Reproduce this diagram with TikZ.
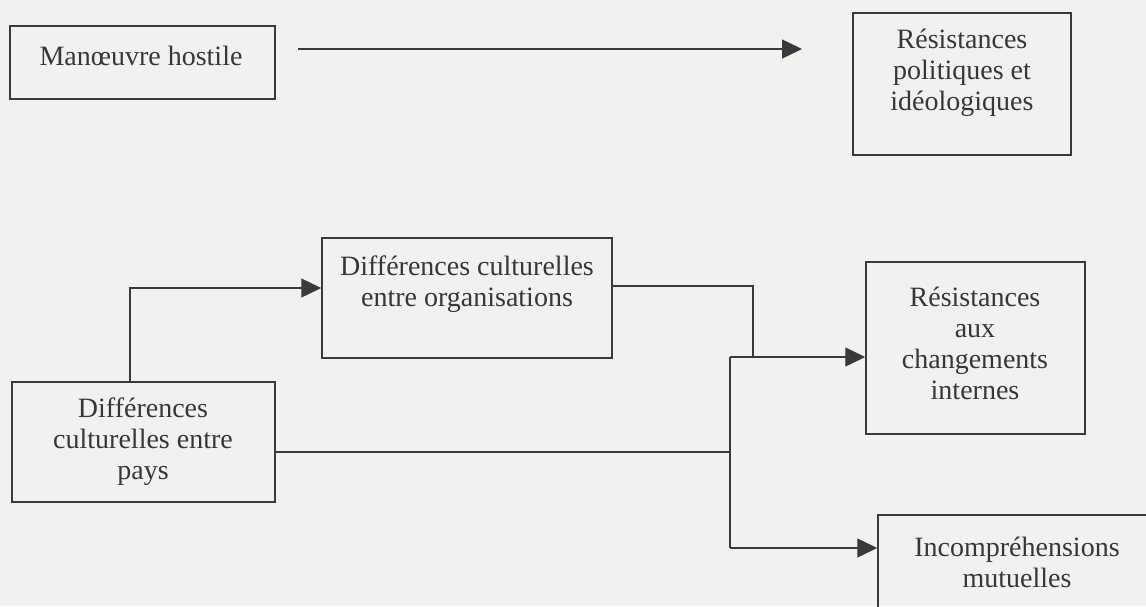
\documentclass[tikz,border=0pt]{standalone}
\usepackage{fontspec}
\setmainfont{Liberation Serif}
\usetikzlibrary{arrows.meta}
\definecolor{paper}{HTML}{F1F1EF}
\definecolor{ink}{HTML}{3A3A3A}
\begin{document}
\begin{tikzpicture}[x=1pt,y=-1pt,
  box/.style={draw=ink, line width=1.5pt, rectangle, inner sep=0pt},
  lbl/.style={text=ink!95!black, align=center, inner sep=0pt,
    font=\fontsize{28}{31}\selectfont},
  link/.style={draw=ink, line width=1.4pt},
  arr/.style={link, -{Triangle[length=20pt,width=19pt]}}]
  % page
  \fill[paper] (0,0) rectangle (1146,606);
  \useasboundingbox (0,0) rectangle (1146,606);

  % boxes
  \node[box, minimum width=265pt, minimum height=73pt] (b1) at (142.5,62.5) {};
  \node[lbl] (t1) at (141,56) {Manœuvre hostile};

  \node[box, minimum width=218pt, minimum height=142pt] (b2) at (962,84) {};
  \node[lbl] (t2) at (962,73) {Résistances\\politiques et\\idéologiques};

  \node[box, minimum width=290pt, minimum height=120pt] (b3) at (467,298) {};
  \node[lbl] (t3) at (467,284) {Différences culturelles\\entre organisations};

  \node[box, minimum width=219pt, minimum height=172pt] (b4) at (975.5,348) {};
  \node[lbl] (t4) at (975,343) {Résistances\\aux\\changements\\internes};

  \node[box, minimum width=263pt, minimum height=120pt] (b5) at (143.5,442) {};
  \node[lbl] (t5) at (143,442) {Différences\\culturelles entre\\pays};

  \node[box, minimum width=282pt, minimum height=110pt] (b6) at (1019,570) {};
  \node[lbl] (t6) at (1017,562) {Incompréhensions\\mutuelles};

  % connector ends and junctions
  \coordinate (h0) at (298,49);
  \coordinate (h1) at (802,49);
  \coordinate (k1) at (753,286);
  \coordinate (j1) at (730,357);
  \coordinate (j2) at (730,452);
  \coordinate (j3) at (730,548);

  % connectors
  \draw[arr] (h0) -- (h1);
  \draw[arr] ([xshift=-13.5pt]b5.north) |- ([yshift=10pt]b3.west);
  \draw[link] (b3.east |- k1) -- (k1) -- (k1 |- j1);
  \draw[arr] (j1) -- (b4.west |- j1);
  \draw[link] (b5.east |- j2) -- (j2);
  \draw[link] (j1) -- (j3);
  \draw[arr] (j3) -- (b6.west |- j3);
\end{tikzpicture}
\end{document}
